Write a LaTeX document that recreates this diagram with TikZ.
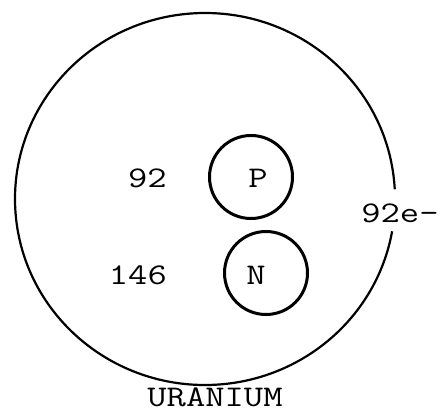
\documentclass[tikz,border=0pt]{standalone}
\usepackage{fontspec}
\newcommand{\widetxt}[1]{\scalebox{1.25}[1]{#1}}
\begin{document}
\begin{tikzpicture}[x=1pt,y=1pt,
  lbl/.style={inner sep=0pt,font=\ttfamily\fontsize{30}{30}\selectfont},
  particle/.style={draw,circle,line width=3pt,minimum size=83pt,inner sep=0pt}]
\useasboundingbox (0,0) rectangle (443,413);
\coordinate (c) at (205,214);
\draw[line width=2.2pt] (c) ++(3:190pt and 186pt) arc[start angle=3,end angle=350,x radius=190,y radius=186];
\node[particle] (pc) at (251,236) {};
\node[particle] (nc) at (266,140) {};
\node[lbl] (p) at (258,235) {\widetxt{P}};
\node[lbl] (n) at (256,138) {\widetxt{N}};
\node[lbl,anchor=east] (np) at (167,235) {\widetxt{92}};
\node[lbl,anchor=east] (nn) at (167,138) {\widetxt{146}};
\node[lbl] (e) at (400,200) {\widetxt{92e-}};
\node[lbl] (u) at (215,16) {\widetxt{URANIUM}};
\end{tikzpicture}
\end{document}
